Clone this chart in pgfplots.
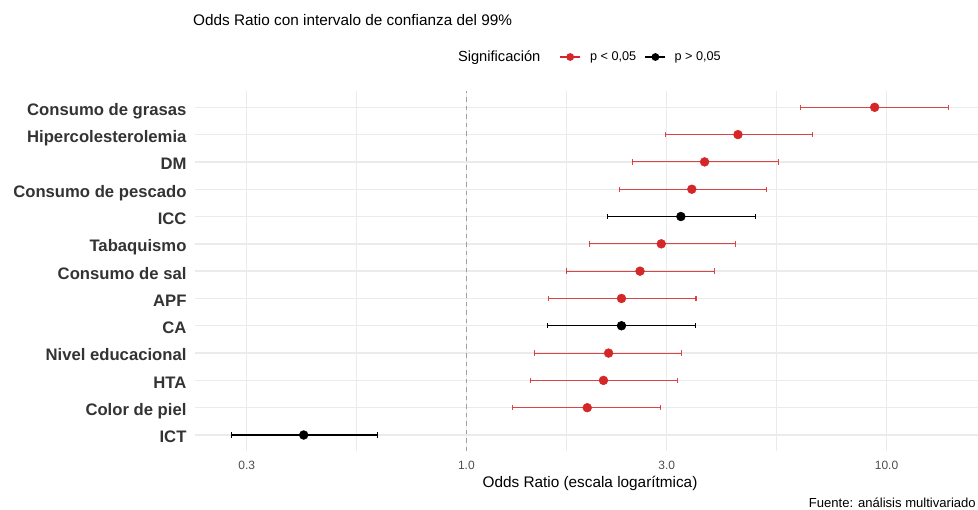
\documentclass[border=0pt]{standalone}
\usepackage{fontspec}
\setmainfont{Liberation Sans}
\usepackage{pgfplots}
\pgfplotsset{compat=1.18}
\definecolor{cred}{RGB}{214,39,40}
\definecolor{gridc}{RGB}{235,235,235}
\definecolor{tickc}{RGB}{77,77,77}
\definecolor{ylabc}{RGB}{51,51,51}
\pgfplotsset{
  cired/.style={draw=cred, draw opacity=0.85, line width=0.8pt, mark=|, mark size=2pt, mark options={solid, draw=cred, draw opacity=0.85}, forget plot},
  ciblk/.style={draw=black, line width=0.8pt, mark=|, mark size=2pt, mark options={solid, draw=black}, forget plot},
}
\begin{document}
\begin{tikzpicture}
\begin{axis}[
  at={(146.25pt,43.95pt)}, anchor=south west,
  scale only axis, width=587.25pt, height=270.375pt,
  xmode=log, log basis x=10,
  xmin=0.226, xmax=16.51, ymin=0.4, ymax=13.6,
  axis line style={draw=none}, major tick length=0pt, minor tick length=0pt,
  xtick={0.3,1,3,10}, xticklabels={0.3,1.0,3.0,10.0},
  minor xtick={0.5477,1.7321,5.4772},
  ytick={1,2,3,4,5,6,7,8,9,10,11,12,13},
  yticklabels={ICT,Color de piel,HTA,Nivel educacional,CA,APF,Consumo de sal,Tabaquismo,ICC,Consumo de pescado,DM,Hipercolesterolemia,Consumo de grasas},
  xmajorgrids, xminorgrids, ymajorgrids,
  major grid style={draw=gridc, line width=1pt},
  minor grid style={draw=gridc, line width=0.6pt},
  /pgf/number format/assume math mode=true,
  xticklabel style={font=\fontsize{9}{10}\selectfont, text=tickc, inner sep=0pt, anchor=base, yshift=-13.4pt},
  yticklabel style={font=\bfseries\fontsize{12.5}{14}\selectfont, text=ylabc, inner sep=0pt, anchor=base east, xshift=-6.2pt, yshift=-5.9pt},
  xlabel={Odds Ratio (escala logarítmica)},
  xlabel style={at={(axis description cs:0.5045,0)}, anchor=base, yshift=-27pt, inner sep=0pt, font=\fontsize{11.5}{13}\selectfont, text=black},
  title={Odds Ratio con intervalo de confianza del 99\%},
  title style={at={(axis description cs:-0.0026,1)}, anchor=base west, yshift=42.7pt, inner sep=0pt, font=\fontsize{11.5}{13}\selectfont},
  legend columns=-1,
  legend image code/.code={\draw[mark repeat=2,mark phase=2,#1] plot coordinates {(0pt,0pt) (7.5pt,0pt) (15pt,0pt)};},
  legend style={at={(axis description cs:0.3359,1.094)}, anchor=west, draw=none, fill=none, inner sep=0pt, outer sep=0pt,
    nodes={inner sep=0pt, outer sep=0pt},
    /tikz/column 2/.style={column sep=14.5pt},
    /tikz/column 3/.style={column sep=7pt},
    /tikz/column 4/.style={column sep=6.5pt},
    /tikz/column 5/.style={column sep=6.5pt}},
]
% reference line at OR = 1
\addplot[forget plot, draw=gray!75, line width=0.75pt, dash pattern=on 3.4pt off 3pt] coordinates {(1,0.4) (1,13.6)};

% confidence intervals (99%)
\addplot[cired] coordinates {(6.25,13) (14.03,13)};
\addplot[cired] coordinates {(2.98,12) (6.68,12)};
\addplot[cired] coordinates {(2.48,11) (5.53,11)};
\addplot[cired] coordinates {(2.31,10) (5.18,10)};
\addplot[ciblk] coordinates {(2.17,9) (4.87,9)};
\addplot[cired] coordinates {(1.96,8) (4.36,8)};
\addplot[cired] coordinates {(1.73,7) (3.89,7)};
\addplot[cired] coordinates {(1.57,6) (3.52,6)};
\addplot[ciblk] coordinates {(1.56,5) (3.51,5)};
\addplot[cired] coordinates {(1.45,4) (3.25,4)};
\addplot[cired] coordinates {(1.42,3) (3.18,3)};
\addplot[cired] coordinates {(1.29,2) (2.90,2)};
\addplot[ciblk] coordinates {(0.276,1) (0.615,1)};

% odds ratios
\addplot[only marks, mark=*, mark size=3.3pt, color=cred, forget plot] table {
x y
9.37 13
4.43 12
3.69 11
3.44 10
2.91 8
2.59 7
2.34 6
2.18 4
2.12 3
1.94 2
};
\addplot[only marks, mark=*, mark size=3.3pt, color=black, forget plot] table {
x y
3.24 9
2.34 5
0.41 1
};

\addlegendimage{empty legend}
\addlegendentry{\fontsize{11}{13}\selectfont Significación}
\addlegendimage{draw=cred, line width=0.8pt, mark=*, mark size=2.5pt, mark options={solid, fill=cred}}
\addlegendentry{\fontsize{9.5}{11}\selectfont p < 0,05}
\addlegendimage{draw=black, line width=0.8pt, mark=*, mark size=2.5pt, mark options={solid, fill=black}}
\addlegendentry{\fontsize{9.5}{11}\selectfont p > 0,05}
\end{axis}
\node[anchor=base east, inner sep=0pt, font=\fontsize{9.8}{11}\selectfont] at (732pt,1.875pt) {Fuente: análisis multivariado};
\pgfresetboundingbox
\path[use as bounding box] (0,0) rectangle (733.5pt,382.5pt);
\end{tikzpicture}
\end{document}
